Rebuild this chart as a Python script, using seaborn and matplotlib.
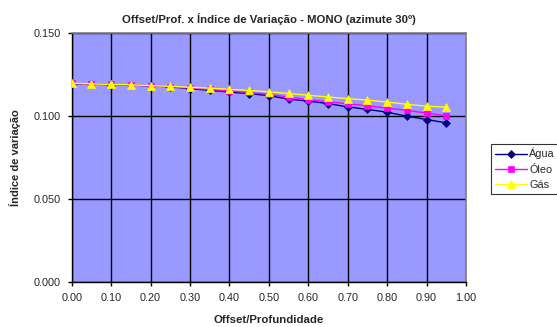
import matplotlib
matplotlib.use("Agg")
import matplotlib.pyplot as plt
import seaborn as sns
import pandas as pd
import numpy as np

offset = [0.00, 0.05, 0.10, 0.15, 0.20, 0.25, 0.30, 0.35, 0.40, 0.45,
          0.50, 0.55, 0.60, 0.65, 0.70, 0.75, 0.80, 0.85, 0.90, 0.95]
agua = [0.1192, 0.1190, 0.1187, 0.1184, 0.1180, 0.1174, 0.1163, 0.1153, 0.1142, 0.1133,
        0.1121, 0.1100, 0.1088, 0.1073, 0.1053, 0.1038, 0.1021, 0.0997, 0.0977, 0.0957]
oleo = [0.1194, 0.1191, 0.1188, 0.1185, 0.1180, 0.1175, 0.1166, 0.1158, 0.1149, 0.1140,
        0.1129, 0.1112, 0.1097, 0.1084, 0.1072, 0.1060, 0.1046, 0.1032, 0.1016, 0.1000]
gas = [0.1195, 0.1192, 0.1188, 0.1186, 0.1181, 0.1177, 0.1171, 0.1166, 0.1159, 0.1152,
       0.1144, 0.1134, 0.1123, 0.1113, 0.1103, 0.1094, 0.1082, 0.1069, 0.1057, 0.1052]
series_names = ["Água", "Óleo", "Gás"]
x_ticks = [0.0, 0.1, 0.2, 0.3, 0.4, 0.5, 0.6, 0.7, 0.8, 0.9, 1.0]
y_ticks = [0.000, 0.050, 0.100, 0.150]

df = pd.DataFrame({
    "x": offset * 3,
    "y": agua + oleo + gas,
    "s": [series_names[0]] * len(offset) + [series_names[1]] * len(offset) + [series_names[2]] * len(offset),
})

sns.set_style("white")
plt.rcParams["font.family"] = ["Liberation Sans", "DejaVu Sans"]

fig = plt.figure(figsize=(5.57, 3.27), dpi=100)
ax = fig.add_axes([0.1287, 0.1385, 0.8366 - 0.1287, 0.9 - 0.1385])
ax.set_facecolor("#9999FF")

palette = {"Água": "#000080", "Óleo": "#FF00FF", "Gás": "#FFFF00"}
markers = {"Água": "D", "Óleo": "s", "Gás": "^"}
msize = {"Água": 4.2, "Óleo": 4.8, "Gás": 5.8}
sns.lineplot(data=df, x="x", y="y", hue="s", style="s", palette=palette,
             markers=markers, dashes=False, ax=ax, linewidth=1.0,
             markersize=5, markeredgewidth=0.5, legend=True, zorder=3)
for line, name in zip(ax.lines, series_names):
    c = line.get_color()
    line.set_markeredgecolor(c)
    line.set_markerfacecolor(c)
    line.set_markersize(msize[name])

ax.set_xlim(0, 1.0)
ax.set_ylim(0, 0.15)
ax.set_xticks(x_ticks)
ax.set_xticklabels([f"{v:.2f}" for v in x_ticks], fontsize=7.8)
ax.set_yticks(y_ticks)
ax.set_yticklabels([f"{v:.3f}" for v in y_ticks], fontsize=7.8)
ax.grid(True, color="black", linewidth=1.0, zorder=1)
ax.set_axisbelow(True)
ax.tick_params(axis="both", which="major", direction="out", length=3, width=1,
               color="black", pad=5, bottom=True, left=True)
for side in ["top", "right"]:
    ax.spines[side].set_color("#808080")
    ax.spines[side].set_linewidth(1.2)
for side in ["left", "bottom"]:
    ax.spines[side].set_color("black")
    ax.spines[side].set_linewidth(1.0)

ax.set_title("Offset/Prof. x Índice de Variação - MONO (azimute 30º)",
             fontsize=8.2, fontweight="bold", pad=7)
ax.set_xlabel("Offset/Profundidade", fontsize=8.2, fontweight="bold", labelpad=9)
ax.set_ylabel("Índice de variação", fontsize=8.0, fontweight="bold", labelpad=9)

handles, labels = ax.get_legend_handles_labels()
for h, name in zip(handles, labels):
    if name in msize:
        h.set_markersize(msize[name])
        h.set_markerfacecolor(palette[name])
        h.set_markeredgecolor(palette[name])
ax.get_legend().remove()
leg = fig.legend(handles, labels, loc="upper left",
                 bbox_to_anchor=(0.8815, 0.5596, 0.2, 0.0), mode="expand",
                 fontsize=7.8, frameon=True, fancybox=False, edgecolor="black",
                 borderpad=0.35, labelspacing=0.5, handlelength=3.0,
                 handletextpad=0.2, borderaxespad=0)
leg.get_frame().set_linewidth(0.8)

fig.savefig("out.png", dpi=100)
